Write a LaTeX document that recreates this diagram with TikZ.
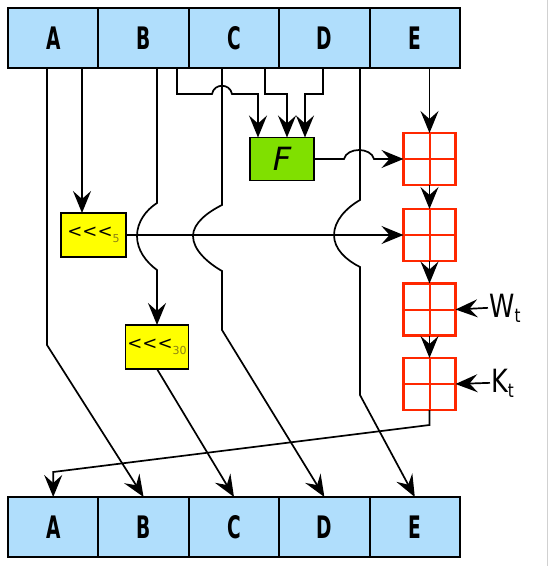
\documentclass[tikz,border=0pt]{standalone}
\usepackage{fontspec}
\setmainfont[Ligatures=NoCommon]{DejaVu Sans}
\newfontfamily\regfont[FakeStretch=0.6]{DejaVu Sans}
\newfontfamily\lblfont[FakeStretch=0.8]{DejaVu Sans}
\usetikzlibrary{arrows.meta}
\definecolor{regblue}{RGB}{176,222,252}
\definecolor{fgreen}{RGB}{128,224,0}
\definecolor{ryellow}{RGB}{255,255,0}
\definecolor{xred}{RGB}{255,40,0}
\definecolor{subolive}{RGB}{140,130,20}
\tikzset{
  reg/.style={draw=black, line width=2pt, fill=regblue, minimum width=90.4pt, minimum height=60pt,
    inner sep=0pt, outer sep=0pt, font=\regfont\fontsize{31}{31}\selectfont\bfseries},
  rotbox/.style={draw=black, line width=1.6pt, fill=ryellow, inner sep=0pt, outer sep=0pt,
    font=\fontsize{18}{18}\selectfont},
  fbox/.style={draw=black, line width=1.6pt, fill=fgreen, minimum width=64pt, minimum height=43pt,
    inner sep=0pt, outer sep=0pt, font=\fontsize{32}{32}\selectfont\itshape},
  addbox/.style={draw=xred, line width=2.6pt, fill=white, minimum width=52pt, minimum height=52pt,
    inner sep=0pt, outer sep=0pt,
    path picture={\draw[xred, line width=2pt] (path picture bounding box.north) -- (path picture bounding box.south)
      (path picture bounding box.west) -- (path picture bounding box.east);}},
  conn/.style={draw=black, line width=1.7pt, line join=miter},
  lbl/.style={font=\lblfont\fontsize{32}{32}\selectfont, inner sep=1pt, anchor=base west},
}
\newcommand{\rotsub}[1]{\raisebox{-5pt}{\fontsize{11}{11}\selectfont\color{subolive}#1}}
\newcommand{\lblsub}[1]{\raisebox{-5pt}{\fontsize{19}{19}\selectfont #1}}
\newcommand{\rotl}{{<}\kern0pt{<}\kern0pt{<}}
\begin{document}
\begin{tikzpicture}[x=1pt, y=-1pt, >={Stealth[length=22pt,width=18pt,inset=8pt]}]
\useasboundingbox (0,0) rectangle (554,566);
\draw[black!18, line width=1pt] (547,0) -- (547,566);

% registers
\foreach \n [count=\i] in {A,B,C,D,E}{
  \node[reg] (t\i) at ({8+90.4*(\i-0.5)},38) {\n};
  \node[reg] (b\i) at ({8+90.4*(\i-0.5)},527) {\n};
}

% function and rotations
\node[fbox] (f) at (282,159) {F};
\node[rotbox, minimum width=65pt, minimum height=44pt] (r5) at (93.5,235) {\rotl\rotsub{5}};
\node[rotbox, minimum width=63pt, minimum height=44pt] (r30) at (157,347) {\rotl\rotsub{30}};

% adders
\node[addbox] (s1) at (429.5,159) {};
\node[addbox] (s2) at (429.5,235) {};
\node[addbox] (s3) at (429.5,309.5) {};
\node[addbox] (s4) at (429.5,384) {};

% labels
\node[lbl] (w) at (488,317) {W\lblsub{t}};
\node[lbl] (k) at (490,392) {K\lblsub{t}};

% A -> B
\draw[conn,->] (47,0 |- t1.south) -- (47,345) -- (b2.north);
% A -> rot5
\draw[conn,->] (82,0 |- t1.south) -- (82,0 |- r5.north);
% rot5 -> adder 2
\draw[conn,->] (r5.east) -- (s2.west);
% B -> rot30
\draw[conn,->] (157,0 |- t2.south) -- (157,203)
  .. controls (146,210) and (137,222) .. (137,236)
  .. controls (137,250) and (146,262) .. (157,270) -- (r30.north);
% rot30 -> C
\draw[conn,->] (r30.south) -- (b3.north);
% B -> F
\draw[conn,->] (177,0 |- t2.south) -- (177,94) -- (212,94)
  .. controls (214,83) and (230,83) .. (232,94) -- (258,94) -- (258,0 |- f.north);
% C -> D
\draw[conn,->] (222,0 |- t3.south) -- (222,205)
  .. controls (208,212) and (193,223) .. (193,236)
  .. controls (193,250) and (208,263) .. (222,271) -- (222,330) -- (b4.north);
% C -> F
\draw[conn,->] (265,0 |- t3.south) -- (265,94) -- (287,94) -- (287,0 |- f.north);
% D -> F
\draw[conn,->] (323,0 |- t4.south) -- (323,94) -- (305,94) -- (305,0 |- f.north);
% D -> E
\draw[conn,->] (360,0 |- t4.south) -- (360,200)
  .. controls (346,208) and (334,221) .. (334,235)
  .. controls (334,249) and (346,260) .. (360,267) -- (360,395) -- (b5.north);
% E -> adder 1
\draw[conn,->] (s1.north |- t5.south) -- (s1.north);
% F -> adder 1
\draw[conn,->] (f.east) -- (344,159)
  .. controls (347,147) and (371,147) .. (374,159) -- (s1.west);
% adder chain
\draw[conn,->] (s1.south) -- (s2.north);
\draw[conn,->] (s2.south) -- (s3.north);
\draw[conn,->] (s3.south) -- (s4.north);
% W, K
\draw[conn,->] (w.west) -- (s3.east);
\draw[conn,->] (k.west) -- (s4.east);
% adder 4 -> A
\draw[conn,->] (s4.south) -- (429.5,425) -- (53.2,472) -- (b1.north);
\end{tikzpicture}
\end{document}
